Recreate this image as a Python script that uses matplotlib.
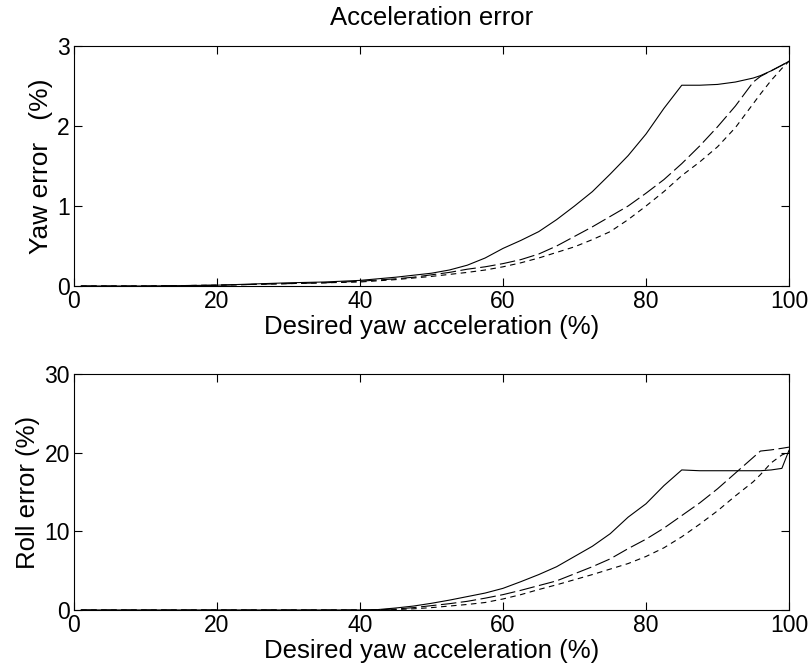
import matplotlib
matplotlib.use("Agg")
import matplotlib.pyplot as plt

plt.rcParams['font.family'] = ['Liberation Sans', 'DejaVu Sans']

# os x - wspolna dla obu wykresow
x = [1, 10, 20, 25, 30, 35, 40,
     42.5, 45, 47.5, 50, 52.5, 55, 57.5, 60, 62.5, 65, 67.5, 70, 72.5, 75, 77.5, 80,
     82.5, 85, 87.5, 90, 92.5, 95,
     96, 97.5, 99, 100]

# gorny wykres - blad odchylenia (yaw)
yaw_solid = [0, 0, 0.01, 0.025, 0.04, 0.05, 0.07,
             0.09, 0.11, 0.135, 0.16, 0.2, 0.26, 0.35, 0.47, 0.57, 0.68, 0.83, 1.00, 1.18,
             1.40, 1.63, 1.90, 2.22, 2.51, 2.51, 2.52, 2.55, 2.60,
             2.63, 2.69, 2.76, 2.81]
yaw_long = [0, 0, 0.01, 0.02, 0.03, 0.04, 0.06,
            0.075, 0.09, 0.11, 0.14, 0.17, 0.21, 0.24, 0.28, 0.33, 0.40, 0.50, 0.62, 0.74,
            0.87, 1.00, 1.16, 1.33, 1.53, 1.75, 1.99, 2.25, 2.55,
            2.62, 2.69, 2.76, 2.81]
yaw_short = [0, 0, 0.01, 0.02, 0.03, 0.04, 0.05,
             0.065, 0.08, 0.1, 0.12, 0.145, 0.17, 0.2, 0.24, 0.29, 0.35, 0.42, 0.49, 0.58,
             0.68, 0.83, 1.00, 1.18, 1.38, 1.55, 1.74, 1.98, 2.28,
             2.40, 2.57, 2.72, 2.81]

# dolny wykres - blad przechylenia (roll)
roll_solid = [0, 0, 0, 0, 0, 0, 0,
              0.05, 0.25, 0.5, 0.85, 1.25, 1.7, 2.15, 2.75, 3.6, 4.5, 5.5, 6.8, 8.1,
              9.7, 11.8, 13.5, 15.8, 17.8, 17.7, 17.7, 17.7, 17.7,
              17.7, 17.8, 18.0, 20.3]
roll_long = [0, 0, 0, 0, 0, 0, 0,
             0.02, 0.12, 0.3, 0.55, 0.8, 1.1, 1.5, 1.95, 2.5, 3.1, 3.7, 4.6, 5.5,
             6.5, 7.8, 9.0, 10.4, 12.0, 13.6, 15.4, 17.4, 19.4,
             20.2, 20.35, 20.55, 20.7]
roll_short = [0, 0, 0, 0, 0, 0, 0,
              0.01, 0.05, 0.15, 0.3, 0.5, 0.7, 0.95, 1.4, 1.95, 2.6, 3.2, 3.85, 4.5,
              5.2, 5.9, 6.8, 7.9, 9.3, 10.9, 12.6, 14.5, 16.3,
              17.2, 18.7, 19.7, 20.1]

fig = plt.figure(figsize=(8.12, 6.72), dpi=100)
ax1 = fig.add_axes([0.0911, 0.5744, 0.8806, 0.3571])
ax2 = fig.add_axes([0.0911, 0.0923, 0.8806, 0.3512])

lw = 0.8
for ax, a, b, c in [(ax1, yaw_solid, yaw_long, yaw_short),
                    (ax2, roll_solid, roll_long, roll_short)]:
    ax.plot(x, a, color='black', lw=lw)
    ax.plot(x, b, color='black', lw=lw, dashes=(14, 4))
    ax.plot(x, c, color='black', lw=lw, dashes=(5, 4))
    ax.set_xlim(0, 100)
    ax.set_xticks([0, 20, 40, 60, 80, 100])
    ax.tick_params(direction='in', top=True, right=True, length=6, width=0.8,
                   labelsize=16.5, pad=3)
    for sp in ax.spines.values():
        sp.set_linewidth(0.8)
    ax.set_xlabel('Desired yaw acceleration (%)', fontsize=18.5, labelpad=1)

ax1.set_ylim(0, 3)
ax1.set_yticks([0, 1, 2, 3])
ax1.set_ylabel('Yaw error   (%)', fontsize=19, labelpad=3)
ax1.set_title('Acceleration error', fontsize=18.5, pad=15)

ax2.set_ylim(0, 30)
ax2.set_yticks([0, 10, 20, 30])
ax2.set_ylabel('Roll error (%)', fontsize=18.5, labelpad=3)

fig.savefig('out.png', dpi=100)
